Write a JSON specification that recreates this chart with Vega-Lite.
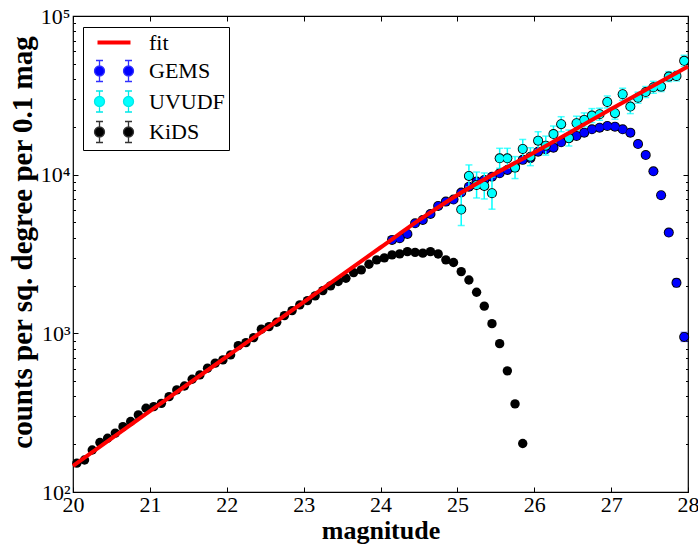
{
  "$schema": "https://vega.github.io/schema/vega-lite/v6.json",
  "autosize": {"type": "none"},
  "width": 615,
  "height": 476,
  "padding": {"left": 73, "top": 16, "right": 10, "bottom": 53},
  "background": "white",
  "config": {
    "view": {"stroke": "black", "strokeWidth": 1.2},
    "font": "Liberation Serif",
    "axis": {"domain": false, "grid": false, "tickColor": "black", "labelColor": "black", "titleColor": "black", "labelFont": "Liberation Serif", "titleFont": "Liberation Serif", "tickWidth": 1}
  },
  "datasets": {
    "pts": [
      {"series": "GEMS", "mag": 24.15, "n": 3880},
      {"series": "GEMS", "mag": 24.25, "n": 3975},
      {"series": "GEMS", "mag": 24.35, "n": 4230},
      {"series": "GEMS", "mag": 24.45, "n": 4940},
      {"series": "GEMS", "mag": 24.55, "n": 5185},
      {"series": "GEMS", "mag": 24.65, "n": 5655},
      {"series": "GEMS", "mag": 24.75, "n": 6350},
      {"series": "GEMS", "mag": 24.85, "n": 6765},
      {"series": "GEMS", "mag": 24.95, "n": 6970},
      {"series": "GEMS", "mag": 25.05, "n": 7710},
      {"series": "GEMS", "mag": 25.15, "n": 8400},
      {"series": "GEMS", "mag": 25.25, "n": 9040},
      {"series": "GEMS", "mag": 25.35, "n": 9260},
      {"series": "GEMS", "mag": 25.45, "n": 9710},
      {"series": "GEMS", "mag": 25.55, "n": 10200},
      {"series": "GEMS", "mag": 25.65, "n": 10710},
      {"series": "GEMS", "mag": 25.75, "n": 11240},
      {"series": "GEMS", "mag": 25.85, "n": 12400},
      {"series": "GEMS", "mag": 25.95, "n": 12700},
      {"series": "GEMS", "mag": 26.05, "n": 13960},
      {"series": "GEMS", "mag": 26.15, "n": 14450},
      {"series": "GEMS", "mag": 26.25, "n": 14800},
      {"series": "GEMS", "mag": 26.35, "n": 16000},
      {"series": "GEMS", "mag": 26.45, "n": 16950},
      {"series": "GEMS", "mag": 26.55, "n": 17530},
      {"series": "GEMS", "mag": 26.65, "n": 18400},
      {"series": "GEMS", "mag": 26.75, "n": 19320},
      {"series": "GEMS", "mag": 26.85, "n": 19780},
      {"series": "GEMS", "mag": 26.95, "n": 20270},
      {"series": "GEMS", "mag": 27.05, "n": 20080},
      {"series": "GEMS", "mag": 27.15, "n": 19320},
      {"series": "GEMS", "mag": 27.25, "n": 18400},
      {"series": "GEMS", "mag": 27.35, "n": 15600},
      {"series": "GEMS", "mag": 27.45, "n": 13300},
      {"series": "GEMS", "mag": 27.55, "n": 10500},
      {"series": "GEMS", "mag": 27.65, "n": 7420, "lo": 7130, "hi": 7720},
      {"series": "GEMS", "mag": 27.75, "n": 4315, "lo": 4130, "hi": 4510},
      {"series": "GEMS", "mag": 27.85, "n": 2080, "lo": 1970, "hi": 2200},
      {"series": "GEMS", "mag": 27.95, "n": 949, "lo": 890, "hi": 1013},
      {"series": "UVUDF", "mag": 25.05, "n": 6030, "lo": 4780, "hi": 7600},
      {"series": "UVUDF", "mag": 25.15, "n": 9820, "lo": 8370, "hi": 11520},
      {"series": "UVUDF", "mag": 25.25, "n": 8610, "lo": 7130, "hi": 10390},
      {"series": "UVUDF", "mag": 25.35, "n": 8490, "lo": 7030, "hi": 10250},
      {"series": "UVUDF", "mag": 25.45, "n": 7640, "lo": 6060, "hi": 9630},
      {"series": "UVUDF", "mag": 25.55, "n": 12680, "lo": 10970, "hi": 14660},
      {"series": "UVUDF", "mag": 25.65, "n": 12680, "lo": 10970, "hi": 14660},
      {"series": "UVUDF", "mag": 25.75, "n": 11080, "lo": 9450, "hi": 13000},
      {"series": "UVUDF", "mag": 25.85, "n": 14520, "lo": 12650, "hi": 16670},
      {"series": "UVUDF", "mag": 25.95, "n": 12980, "lo": 11400, "hi": 14780},
      {"series": "UVUDF", "mag": 26.05, "n": 16370, "lo": 14370, "hi": 18650},
      {"series": "UVUDF", "mag": 26.15, "n": 15240, "lo": 13280, "hi": 17500},
      {"series": "UVUDF", "mag": 26.25, "n": 18040, "lo": 16060, "hi": 20260},
      {"series": "UVUDF", "mag": 26.35, "n": 20800, "lo": 18650, "hi": 23190},
      {"series": "UVUDF", "mag": 26.45, "n": 17020, "lo": 15160, "hi": 19110},
      {"series": "UVUDF", "mag": 26.55, "n": 21100, "lo": 19060, "hi": 23360},
      {"series": "UVUDF", "mag": 26.65, "n": 22140, "lo": 20000, "hi": 24510},
      {"series": "UVUDF", "mag": 26.75, "n": 23560, "lo": 21280, "hi": 26080},
      {"series": "UVUDF", "mag": 26.85, "n": 24040, "lo": 22030, "hi": 26230},
      {"series": "UVUDF", "mag": 26.95, "n": 28720, "lo": 26320, "hi": 31330},
      {"series": "UVUDF", "mag": 27.05, "n": 24400, "lo": 22360, "hi": 26620},
      {"series": "UVUDF", "mag": 27.15, "n": 32130, "lo": 29450, "hi": 35050},
      {"series": "UVUDF", "mag": 27.25, "n": 26860, "lo": 24260, "hi": 29730},
      {"series": "UVUDF", "mag": 27.35, "n": 30550, "lo": 28210, "hi": 33090},
      {"series": "UVUDF", "mag": 27.45, "n": 33180, "lo": 30640, "hi": 35930},
      {"series": "UVUDF", "mag": 27.55, "n": 35550, "lo": 32580, "hi": 38780},
      {"series": "UVUDF", "mag": 27.65, "n": 35900, "lo": 33400, "hi": 38590},
      {"series": "UVUDF", "mag": 27.75, "n": 41500, "lo": 38600, "hi": 44610},
      {"series": "UVUDF", "mag": 27.85, "n": 41880, "lo": 38960, "hi": 45020},
      {"series": "UVUDF", "mag": 27.95, "n": 52200, "lo": 48200, "hi": 56530},
      {"series": "KiDS", "mag": 20.05, "n": 152},
      {"series": "KiDS", "mag": 20.15, "n": 159},
      {"series": "KiDS", "mag": 20.25, "n": 184},
      {"series": "KiDS", "mag": 20.35, "n": 205},
      {"series": "KiDS", "mag": 20.45, "n": 218},
      {"series": "KiDS", "mag": 20.55, "n": 235},
      {"series": "KiDS", "mag": 20.65, "n": 258},
      {"series": "KiDS", "mag": 20.75, "n": 278},
      {"series": "KiDS", "mag": 20.85, "n": 306},
      {"series": "KiDS", "mag": 20.95, "n": 337},
      {"series": "KiDS", "mag": 21.05, "n": 345},
      {"series": "KiDS", "mag": 21.15, "n": 362},
      {"series": "KiDS", "mag": 21.25, "n": 399},
      {"series": "KiDS", "mag": 21.35, "n": 440},
      {"series": "KiDS", "mag": 21.45, "n": 466},
      {"series": "KiDS", "mag": 21.55, "n": 514},
      {"series": "KiDS", "mag": 21.65, "n": 547},
      {"series": "KiDS", "mag": 21.75, "n": 603},
      {"series": "KiDS", "mag": 21.85, "n": 649},
      {"series": "KiDS", "mag": 21.95, "n": 680},
      {"series": "KiDS", "mag": 22.05, "n": 731},
      {"series": "KiDS", "mag": 22.15, "n": 836},
      {"series": "KiDS", "mag": 22.25, "n": 874},
      {"series": "KiDS", "mag": 22.35, "n": 940},
      {"series": "KiDS", "mag": 22.45, "n": 1062},
      {"series": "KiDS", "mag": 22.55, "n": 1103},
      {"series": "KiDS", "mag": 22.65, "n": 1175},
      {"series": "KiDS", "mag": 22.75, "n": 1294},
      {"series": "KiDS", "mag": 22.85, "n": 1391},
      {"series": "KiDS", "mag": 22.95, "n": 1511},
      {"series": "KiDS", "mag": 23.05, "n": 1608},
      {"series": "KiDS", "mag": 23.15, "n": 1722},
      {"series": "KiDS", "mag": 23.25, "n": 1860},
      {"series": "KiDS", "mag": 23.35, "n": 1991},
      {"series": "KiDS", "mag": 23.45, "n": 2120},
      {"series": "KiDS", "mag": 23.55, "n": 2225},
      {"series": "KiDS", "mag": 23.65, "n": 2414},
      {"series": "KiDS", "mag": 23.75, "n": 2510},
      {"series": "KiDS", "mag": 23.85, "n": 2725},
      {"series": "KiDS", "mag": 23.95, "n": 2905},
      {"series": "KiDS", "mag": 24.05, "n": 2990},
      {"series": "KiDS", "mag": 24.15, "n": 3120},
      {"series": "KiDS", "mag": 24.25, "n": 3170},
      {"series": "KiDS", "mag": 24.35, "n": 3275},
      {"series": "KiDS", "mag": 24.45, "n": 3240},
      {"series": "KiDS", "mag": 24.55, "n": 3200},
      {"series": "KiDS", "mag": 24.65, "n": 3275},
      {"series": "KiDS", "mag": 24.75, "n": 3165},
      {"series": "KiDS", "mag": 24.85, "n": 2905},
      {"series": "KiDS", "mag": 24.95, "n": 2795},
      {"series": "KiDS", "mag": 25.05, "n": 2450},
      {"series": "KiDS", "mag": 25.15, "n": 2170},
      {"series": "KiDS", "mag": 25.25, "n": 1815},
      {"series": "KiDS", "mag": 25.35, "n": 1483},
      {"series": "KiDS", "mag": 25.45, "n": 1151},
      {"series": "KiDS", "mag": 25.55, "n": 861},
      {"series": "KiDS", "mag": 25.65, "n": 580},
      {"series": "KiDS", "mag": 25.75, "n": 359},
      {"series": "KiDS", "mag": 25.85, "n": 202}
    ],
    "fit": [
      {"mag": 20.0, "n": 146},
      {"mag": 21.0, "n": 323},
      {"mag": 22.0, "n": 713},
      {"mag": 23.0, "n": 1574},
      {"mag": 24.0, "n": 3475},
      {"mag": 24.5, "n": 5164},
      {"mag": 25.0, "n": 7450},
      {"mag": 26.0, "n": 13800},
      {"mag": 27.0, "n": 25900},
      {"mag": 28.0, "n": 48000}
    ]
  },
  "resolve": {"axis": {"x": "independent", "y": "independent"}},
  "layer": [
    {
      "data": {"name": "pts"},
      "transform": [{"filter": "datum.series === 'GEMS' && isValid(datum.lo)"}],
      "mark": {"type": "errorbar", "orient": "vertical", "color": "#2020ff", "ticks": true, "size": 7, "thickness": 1.5},
      "encoding": {
        "x": {"field": "mag", "type": "quantitative", "scale": {"domain": [20, 28], "nice": false, "zero": false}, "axis": null},
        "y": {"field": "lo", "type": "quantitative", "scale": {"type": "log", "domain": [100, 100000], "nice": false}, "axis": null},
        "y2": {"field": "hi"}
      }
    },
    {
      "data": {"name": "pts"},
      "transform": [{"filter": "datum.series === 'GEMS'"}],
      "mark": {"type": "circle", "size": 100, "opacity": 1, "color": "black"},
      "encoding": {
        "x": {"field": "mag", "type": "quantitative", "scale": {"domain": [20, 28], "nice": false, "zero": false}, "axis": null},
        "y": {"field": "n", "type": "quantitative", "scale": {"type": "log", "domain": [100, 100000], "nice": false}, "axis": null}
      }
    },
    {
      "data": {"name": "pts"},
      "transform": [{"filter": "datum.series === 'GEMS'"}],
      "mark": {"type": "circle", "size": 68, "opacity": 1},
      "encoding": {
        "x": {"field": "mag", "type": "quantitative", "scale": {"domain": [20, 28], "nice": false, "zero": false},
              "axis": {"orient": "bottom", "values": [20, 21, 22, 23, 24, 25, 26, 27, 28], "format": "d", "tickSize": -5, "labelPadding": 7, "labelFontSize": 22, "labelFlush": false, "title": "magnitude", "titleFontSize": 26, "titleFontWeight": "bold", "titlePadding": 2}},
        "y": {"field": "n", "type": "quantitative", "scale": {"type": "log", "domain": [100, 100000], "nice": false},
              "axis": {"orient": "left", "values": [100, 1000, 10000, 100000], "labelExpr": "datum.value == 100 ? '10²' : datum.value == 1000 ? '10³' : datum.value == 10000 ? '10⁴' : '10⁵'", "tickSize": -5, "labelPadding": 8, "labelFontSize": 22, "labelFlush": false, "labelBaseline": "middle", "title": "counts per sq. degree per 0.1 mag", "titleFontSize": 29, "titleFontWeight": "bold", "titlePadding": 3, "titleY": 226}},
        "fill": {"field": "series", "type": "nominal",
                 "scale": {"domain": ["fit", "GEMS", "UVUDF", "KiDS"], "range": ["#ff0000", "#0000ff", "#00ffff", "#000000"]},
                 "legend": {
                   "orient": "none", "legendX": 10, "legendY": 11, "title": null,
                   "padding": 4, "rowPadding": 3.5, "strokeColor": "black", "fillColor": "white",
                   "symbolSize": 441, "symbolOffset": 15.5, "labelOffset": 23.5, "labelFontSize": 22, "labelFont": "Liberation Serif", "labelColor": "black",
                   "symbolStrokeWidth": 1.3, "symbolOpacity": 1,
                   "symbolType": {"expr": "datum.value === 'fit' ? 'M-1.571,-0.19L1.571,-0.19L1.571,0.19L-1.571,0.19Z' : 'M-1.857,0A0.476,0.476,0,1,0,-0.905,0A0.476,0.476,0,1,0,-1.857,0ZM0.905,0A0.476,0.476,0,1,0,1.857,0A0.476,0.476,0,1,0,0.905,0ZM-1.381,-1L-1.381,-0.476M-1.714,-1L-1.048,-1M-1.381,0.476L-1.381,1M-1.714,1L-1.048,1M1.381,-1L1.381,-0.476M1.048,-1L1.714,-1M1.381,0.476L1.381,1M1.048,1L1.714,1'"},
                   "symbolStrokeColor": {"expr": "datum.value === 'fit' ? 'transparent' : datum.value === 'GEMS' ? '#3030ff' : datum.value === 'UVUDF' ? '#00e8e8' : '#333333'"}
                 }}
      }
    },
    {
      "data": {"name": "pts"},
      "transform": [{"filter": "datum.series === 'UVUDF'"}],
      "mark": {"type": "errorbar", "orient": "vertical", "color": "#00ffff", "ticks": true, "size": 7, "thickness": 1.5},
      "encoding": {
        "x": {"field": "mag", "type": "quantitative", "scale": {"domain": [20, 28], "nice": false, "zero": false}, "axis": null},
        "y": {"field": "lo", "type": "quantitative", "scale": {"type": "log", "domain": [100, 100000], "nice": false}, "axis": null},
        "y2": {"field": "hi"}
      }
    },
    {
      "data": {"name": "pts"},
      "transform": [{"filter": "datum.series === 'UVUDF'"}],
      "mark": {"type": "circle", "size": 100, "opacity": 1, "color": "black"},
      "encoding": {
        "x": {"field": "mag", "type": "quantitative", "scale": {"domain": [20, 28], "nice": false, "zero": false}, "axis": null},
        "y": {"field": "n", "type": "quantitative", "scale": {"type": "log", "domain": [100, 100000], "nice": false}, "axis": null}
      }
    },
    {
      "data": {"name": "pts"},
      "transform": [{"filter": "datum.series === 'UVUDF'"}],
      "mark": {"type": "circle", "size": 68, "opacity": 1},
      "encoding": {
        "x": {"field": "mag", "type": "quantitative", "scale": {"domain": [20, 28], "nice": false, "zero": false},
              "axis": {"orient": "top", "values": [20, 21, 22, 23, 24, 25, 26, 27, 28], "tickSize": -5, "labels": false, "title": null}},
        "y": {"field": "n", "type": "quantitative", "scale": {"type": "log", "domain": [100, 100000], "nice": false},
              "axis": {"orient": "right", "values": [100, 1000, 10000, 100000], "tickSize": -5, "labels": false, "title": null}},
        "fill": {"field": "series", "type": "nominal"}
      }
    },
    {
      "data": {"name": "pts"},
      "transform": [{"filter": "datum.series === 'KiDS'"}],
      "mark": {"type": "circle", "size": 88, "opacity": 1},
      "encoding": {
        "x": {"field": "mag", "type": "quantitative", "scale": {"domain": [20, 28], "nice": false, "zero": false}, "axis": null},
        "y": {"field": "n", "type": "quantitative", "scale": {"type": "log", "domain": [100, 100000], "nice": false},
              "axis": {"orient": "left", "values": [200, 300, 400, 500, 600, 700, 800, 900, 2000, 3000, 4000, 5000, 6000, 7000, 8000, 9000, 20000, 30000, 40000, 50000, 60000, 70000, 80000, 90000], "tickSize": -2.5, "labels": false, "title": null}},
        "fill": {"field": "series", "type": "nominal"}
      }
    },
    {
      "data": {"name": "fit"},
      "mark": {"type": "line", "color": "#ff0000", "strokeWidth": 4, "interpolate": "monotone"},
      "encoding": {
        "x": {"field": "mag", "type": "quantitative", "scale": {"domain": [20, 28], "nice": false, "zero": false}, "axis": null},
        "y": {"field": "n", "type": "quantitative", "scale": {"type": "log", "domain": [100, 100000], "nice": false},
              "axis": {"orient": "right", "values": [200, 300, 400, 500, 600, 700, 800, 900, 2000, 3000, 4000, 5000, 6000, 7000, 8000, 9000, 20000, 30000, 40000, 50000, 60000, 70000, 80000, 90000], "tickSize": -2.5, "labels": false, "title": null}}
      }
    }
  ]
}
